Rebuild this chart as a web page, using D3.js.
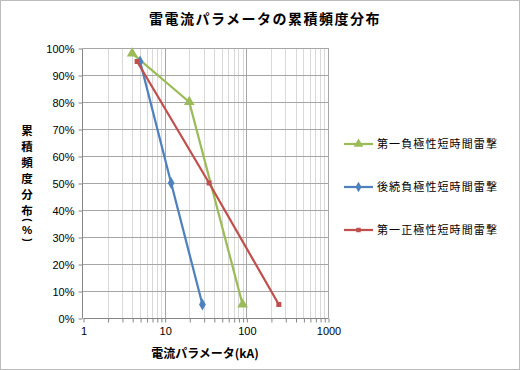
<!DOCTYPE html>
<html><head><meta charset="utf-8">
<script src="https://cdn.jsdelivr.net/npm/d3@7"></script>
<style>body{margin:0;background:#fff}svg{display:block}</style>
</head><body><svg id="c" width="520" height="370"></svg>
<script>
const title = "雷電流パラメータの累積頻度分布";
const xTitle = "電流パラメータ(kA)";
const yTitleChars = ["累","積","頻","度","分","布","(","%",")"];
const seriesNames = ["第一負極性短時間雷撃","後続負極性短時間雷撃","第一正極性短時間雷撃"];
const seriesColors = ["#9bbb59","#4f81bd","#c0504d"];
const seriesMarkers = ["triangle","diamond","square"];
const greenX = [4, 20, 90];
const greenY = [98, 80, 5];
const blueX = [5, 12, 29];
const blueY = [95, 50, 5];
const redX = [4.6, 35, 250];
const redY = [95, 50, 5];
const xTicks = [1, 10, 100, 1000];
const yTicks = [0,10,20,30,40,50,60,70,80,90,100];

const svg = d3.select("#c");
const L = 83, R = 328, T = 48, B = 318;
const x = d3.scaleLog().domain([1, 1000]).range([L, R]);
const y = d3.scaleLinear().domain([0, 100]).range([B, T]);

svg.append("rect").attr("x",0.5).attr("y",0.5).attr("width",519).attr("height",369)
  .attr("fill","#fff").attr("stroke","#bcbcbc");

// minor vertical grid
const minor = [];
for (let d = 1; d < 1000; d *= 10) for (let k = 2; k <= 9; k++) minor.push(d*k);
svg.append("g").selectAll("line").data(minor).join("line")
  .attr("x1", d => Math.round(x(d))+0.5).attr("x2", d => Math.round(x(d))+0.5)
  .attr("y1", T).attr("y2", B).attr("stroke","#d9d9d9").attr("stroke-width",1);
// major vertical grid
svg.append("g").selectAll("line").data(xTicks.slice(1)).join("line")
  .attr("x1", d => Math.round(x(d))+0.5).attr("x2", d => Math.round(x(d))+0.5)
  .attr("y1", T).attr("y2", B).attr("stroke","#a6a6a6").attr("stroke-width",1);
// horizontal grid
svg.append("g").selectAll("line").data(yTicks.slice(1)).join("line")
  .attr("x1", L).attr("x2", R)
  .attr("y1", d => Math.round(y(d))+0.5).attr("y2", d => Math.round(y(d))+0.5)
  .attr("stroke","#a6a6a6").attr("stroke-width",1);

// axes
const xAxis = d3.axisBottom(x).tickValues(minor.concat(xTicks)).tickSize(4)
  .tickFormat(d => xTicks.includes(d) ? String(d) : "");
const gx = svg.append("g").attr("transform",`translate(0.5,${Math.round(B)+0.5})`).call(xAxis);
gx.select(".domain").attr("stroke","#868686").attr("d",`M${L},0H${R}`);
gx.selectAll(".tick line").attr("stroke","#868686");
gx.selectAll(".tick text").attr("font-family","'Liberation Sans',Arial,sans-serif")
  .attr("font-size",11).attr("fill","#000").attr("dy","0.9em");

const yAxis = d3.axisLeft(y).tickValues(yTicks).tickSize(4).tickFormat(d => d + "%");
const gy = svg.append("g").attr("transform",`translate(${L-0.5},0.5)`).call(yAxis);
gy.select(".domain").attr("stroke","#868686").attr("d",`M0,${T}V${B}`);
gy.selectAll(".tick line").attr("stroke","#868686");
gy.selectAll(".tick text").attr("font-family","'Liberation Sans',Arial,sans-serif")
  .attr("font-size",11).attr("fill","#000").attr("x",-8);

// series
const data = [
  greenX.map((v,i)=>[v,greenY[i]]),
  blueX.map((v,i)=>[v,blueY[i]]),
  redX.map((v,i)=>[v,redY[i]])
];
const sym = {triangle: d3.symbolTriangle, diamond: d3.symbolDiamond, square: d3.symbolSquare};
const symSize = {triangle: 50, diamond: 40, square: 25};
const line = d3.line().x(d => x(d[0])).y(d => y(d[1]));
data.forEach((pts, i) => {
  const g = svg.append("g");
  g.append("path").attr("d", line(pts)).attr("fill","none")
    .attr("stroke", seriesColors[i]).attr("stroke-width",2.25).attr("stroke-linejoin","round");
  g.selectAll("path.m").data(pts).join("path").attr("class","m")
    .attr("transform", d => `translate(${x(d[0])},${y(d[1])})`)
    .attr("d", d3.symbol().type(sym[seriesMarkers[i]]).size(symSize[seriesMarkers[i]]))
    .attr("fill", seriesColors[i]);
});

// legend
const legY = [144, 187, 230];
seriesNames.forEach((n, i) => {
  const g = svg.append("g").attr("transform", `translate(0,${legY[i]})`);
  g.append("line").attr("x1",344).attr("x2",373).attr("y1",0).attr("y2",0)
    .attr("stroke", seriesColors[i]).attr("stroke-width",2.25);
  g.append("path").attr("transform","translate(358.5,0)")
    .attr("d", d3.symbol().type(sym[seriesMarkers[i]]).size(symSize[seriesMarkers[i]]*0.8))
    .attr("fill", seriesColors[i]);
  g.append("text").attr("x",377).attr("y",4).text(n)
    .attr("font-family","'Noto Sans CJK JP',sans-serif").attr("font-size",11)
    .attr("letter-spacing",1.1).attr("fill","#000");
});

// title
svg.append("text").attr("x",265).attr("y",24).attr("text-anchor","middle").text(title)
  .attr("font-family","'Noto Sans CJK JP',sans-serif").attr("font-size",14)
  .attr("font-weight","bold").attr("letter-spacing",1.5).attr("fill","#000");

// x title
svg.append("text").attr("x",205).attr("y",358).attr("text-anchor","middle").text(xTitle)
  .attr("font-family","'Noto Sans CJK JP',sans-serif").attr("font-size",12)
  .attr("font-weight","bold").attr("fill","#000");

// y title (vertical stacked)
const yPos = [130,146,162,178,194,210,220,230,240];
yTitleChars.forEach((c, i) => {
  const isParen = c === "(" || c === ")";
  svg.append("text")
    .attr("transform", `translate(27,${yPos[i]})` + (isParen ? " rotate(90)" : ""))
    .attr("text-anchor","middle").attr("dominant-baseline","central").text(c)
    .attr("font-family", isParen || c === "%" ? "'Liberation Sans',Arial,sans-serif" : "'Noto Sans CJK JP',sans-serif")
    .attr("font-size", isParen ? 10 : 11.5).attr("font-weight","bold").attr("fill","#000");
});
</script></body></html>
